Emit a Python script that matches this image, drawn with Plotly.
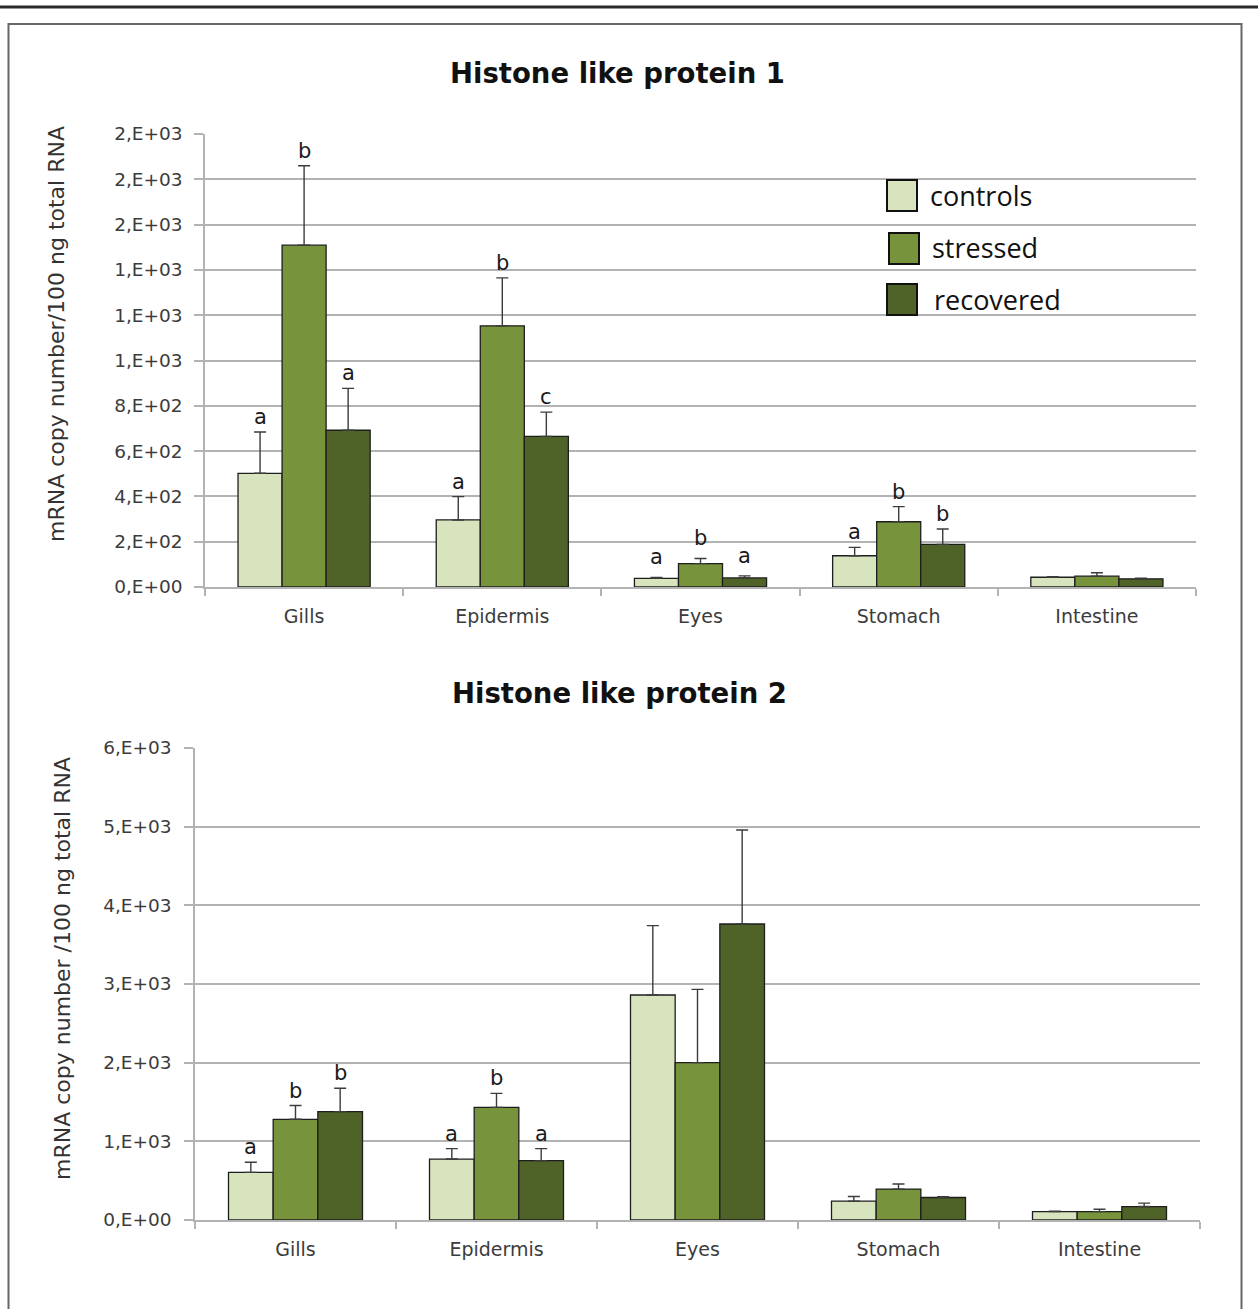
import plotly.graph_objects as go

W, H = 1258, 1309

tissues = ["Gills", "Epidermis", "Eyes", "Stomach", "Intestine"]
groups = ["controls", "stressed", "recovered"]
colors = ["#d7e4bd", "#77933c", "#4f6228"]

# Histone like protein 1 (mean copy number and SD)
hlp1_controls = [502, 296, 38, 138, 43]
hlp1_stressed = [1509, 1153, 103, 288, 48]
hlp1_recovered = [692, 665, 40, 188, 36]
hlp1_controls_sd = [182, 103, 4, 37, 2]
hlp1_stressed_sd = [351, 212, 23, 67, 15]
hlp1_recovered_sd = [185, 107, 9, 68, 3]
hlp1_controls_lbl = ["a", "a", "a", "a", ""]
hlp1_stressed_lbl = ["b", "b", "b", "b", ""]
hlp1_recovered_lbl = ["a", "c", "a", "b", ""]

# Histone like protein 2 (mean copy number and SD)
hlp2_controls = [605, 775, 2860, 239, 107]
hlp2_stressed = [1280, 1432, 2000, 393, 107]
hlp2_recovered = [1378, 754, 3763, 286, 171]
hlp2_controls_sd = [130, 132, 882, 60, 4]
hlp2_stressed_sd = [175, 178, 932, 64, 30]
hlp2_recovered_sd = [296, 153, 1195, 9, 43]
hlp2_controls_lbl = ["a", "a", "", "", ""]
hlp2_stressed_lbl = ["b", "b", "", "", ""]
hlp2_recovered_lbl = ["b", "a", "", "", ""]

hlp1_ticks = [0, 200, 400, 600, 800, 1000, 1200, 1400, 1600, 1800, 2000]
hlp1_ticktext = ["0,E+00", "2,E+02", "4,E+02", "6,E+02", "8,E+02", "1,E+03",
                 "1,E+03", "1,E+03", "2,E+03", "2,E+03", "2,E+03"]
hlp2_ticks = [0, 1000, 2000, 3000, 4000, 5000, 6000]
hlp2_ticktext = ["0,E+00", "1,E+03", "2,E+03", "3,E+03", "4,E+03", "5,E+03", "6,E+03"]

BARGAP = 1 / 3

# plot areas in pixels (left, right, top, bottom)
box1 = (205, 1196, 134, 587)
box2 = (195, 1200, 748, 1220)


def xdom(b):
    return [b[0] / W, b[1] / W]


def ydom(b):
    return [1 - b[3] / H, 1 - b[2] / H]


fig = go.Figure()

panels = [
    ("x", "y", box1,
     [hlp1_controls, hlp1_stressed, hlp1_recovered],
     [hlp1_controls_sd, hlp1_stressed_sd, hlp1_recovered_sd],
     [hlp1_controls_lbl, hlp1_stressed_lbl, hlp1_recovered_lbl]),
    ("x2", "y2", box2,
     [hlp2_controls, hlp2_stressed, hlp2_recovered],
     [hlp2_controls_sd, hlp2_stressed_sd, hlp2_recovered_sd],
     [hlp2_controls_lbl, hlp2_stressed_lbl, hlp2_recovered_lbl]),
]

annotations = []
for xa, ya, box, means, sds, lbls in panels:
    bar_px = (box[1] - box[0]) / len(tissues) * (1 - BARGAP) / len(groups)
    for j, g in enumerate(groups):
        fig.add_trace(go.Bar(
            x=tissues, y=means[j], name=g, xaxis=xa, yaxis=ya,
            marker=dict(color=colors[j], line=dict(color="#1e1e1e", width=1.3)),
            error_y=dict(type="data", symmetric=False, array=sds[j],
                         arrayminus=[0] * len(tissues),
                         color="#3c3c3c", thickness=1.4, width=6),
            showlegend=False,
        ))
        for i, t in enumerate(tissues):
            if lbls[j][i]:
                # letters over the small bars sit a little higher above the cap
                lift = 6 if means[j][i] + sds[j][i] < 150 else 1
                annotations.append(dict(
                    x=t, y=means[j][i] + sds[j][i], xref=xa, yref=ya,
                    text=lbls[j][i], showarrow=False, yanchor="bottom",
                    xshift=(j - 1) * bar_px, yshift=lift,
                    font=dict(family="DejaVu Sans", size=21, color="#1a1a1a"),
                ))

axis_font = dict(family="DejaVu Sans", size=18.5, color="#3c3c3c")
cat_font = dict(family="DejaVu Sans", size=19, color="#3c3c3c")
grid_col = "#b3b3b3"

xcommon = dict(type="category", showgrid=False, showline=True, linecolor=grid_col,
               linewidth=1.5, ticks="outside", ticklen=7, tickcolor=grid_col,
               tickwidth=1.5, tickson="boundaries", tickfont=cat_font,
               ticklabelstandoff=11, automargin=False, fixedrange=True)
ycommon = dict(showgrid=True, gridcolor=grid_col, gridwidth=1.5, showline=True,
               linecolor=grid_col, linewidth=1.5, ticks="outside", ticklen=9,
               tickcolor=grid_col, tickwidth=1.5, zeroline=False,
               tickfont=axis_font, automargin=False, fixedrange=True)

fig.update_layout(
    xaxis=dict(domain=xdom(box1), anchor="y", **xcommon),
    yaxis=dict(domain=ydom(box1), anchor="x", range=[0, 2000], ticklabelstandoff=8,
               tickvals=hlp1_ticks, ticktext=hlp1_ticktext, **ycommon),
    xaxis2=dict(domain=xdom(box2), anchor="y2", **xcommon),
    yaxis2=dict(domain=ydom(box2), anchor="x2", range=[0, 6000], ticklabelstandoff=9,
                tickvals=hlp2_ticks, ticktext=hlp2_ticktext, **ycommon),
    barmode="group", bargap=BARGAP, bargroupgap=0,
    width=W, height=H, margin=dict(l=0, r=0, t=0, b=0, pad=0, autoexpand=False),
    showlegend=False,
    paper_bgcolor="white", plot_bgcolor="white",
)

# panel titles
for text, yc, xc in [("Histone like protein 1", 73, 617), ("Histone like protein 2", 693, 619)]:
    annotations.append(dict(
        x=xc / W, y=1 - yc / H, xref="paper", yref="paper", showarrow=False,
        text="<b>" + text + "</b>", xanchor="center", yanchor="middle",
        font=dict(family="DejaVu Sans", size=27.5, color="#111111"),
    ))

# y-axis titles
for text, xc, yc in [("mRNA copy number/100 ng total RNA", 57, 334),
                     ("mRNA copy number /100 ng total RNA", 62, 969)]:
    annotations.append(dict(
        x=xc / W, y=1 - yc / H, xref="paper", yref="paper", showarrow=False,
        text=text, textangle=-90, xanchor="center", yanchor="middle",
        font=dict(family="DejaVu Sans", size=22, color="#333333"),
    ))

shapes = []
# legend swatches and labels
legend_rows = [(887, 180, 928), (889, 233, 930), (887, 284, 932)]
for (bx, by, tx), g, c in zip(legend_rows, groups, colors):
    shapes.append(dict(type="rect", xref="paper", yref="paper",
                       x0=bx / W, x1=(bx + 30) / W, y0=1 - (by + 31) / H, y1=1 - by / H,
                       fillcolor=c, line=dict(color="#111111", width=2)))
    annotations.append(dict(
        x=tx / W, y=1 - (by + 15) / H, xref="paper", yref="paper", showarrow=False,
        text=g, xanchor="left", yanchor="middle",
        font=dict(family="Open Sans", size=27, color="#111111"),
    ))

# page frame
shapes.append(dict(type="line", xref="paper", yref="paper", x0=0, x1=1,
                   y0=1 - 7 / H, y1=1 - 7 / H, line=dict(color="#2b2b2b", width=3)))
shapes.append(dict(type="rect", xref="paper", yref="paper",
                   x0=8.5 / W, x1=1241.5 / W, y0=-0.02, y1=1 - 24 / H,
                   line=dict(color="#666666", width=2)))

fig.update_layout(annotations=annotations, shapes=shapes)

fig.write_html("out.html")
